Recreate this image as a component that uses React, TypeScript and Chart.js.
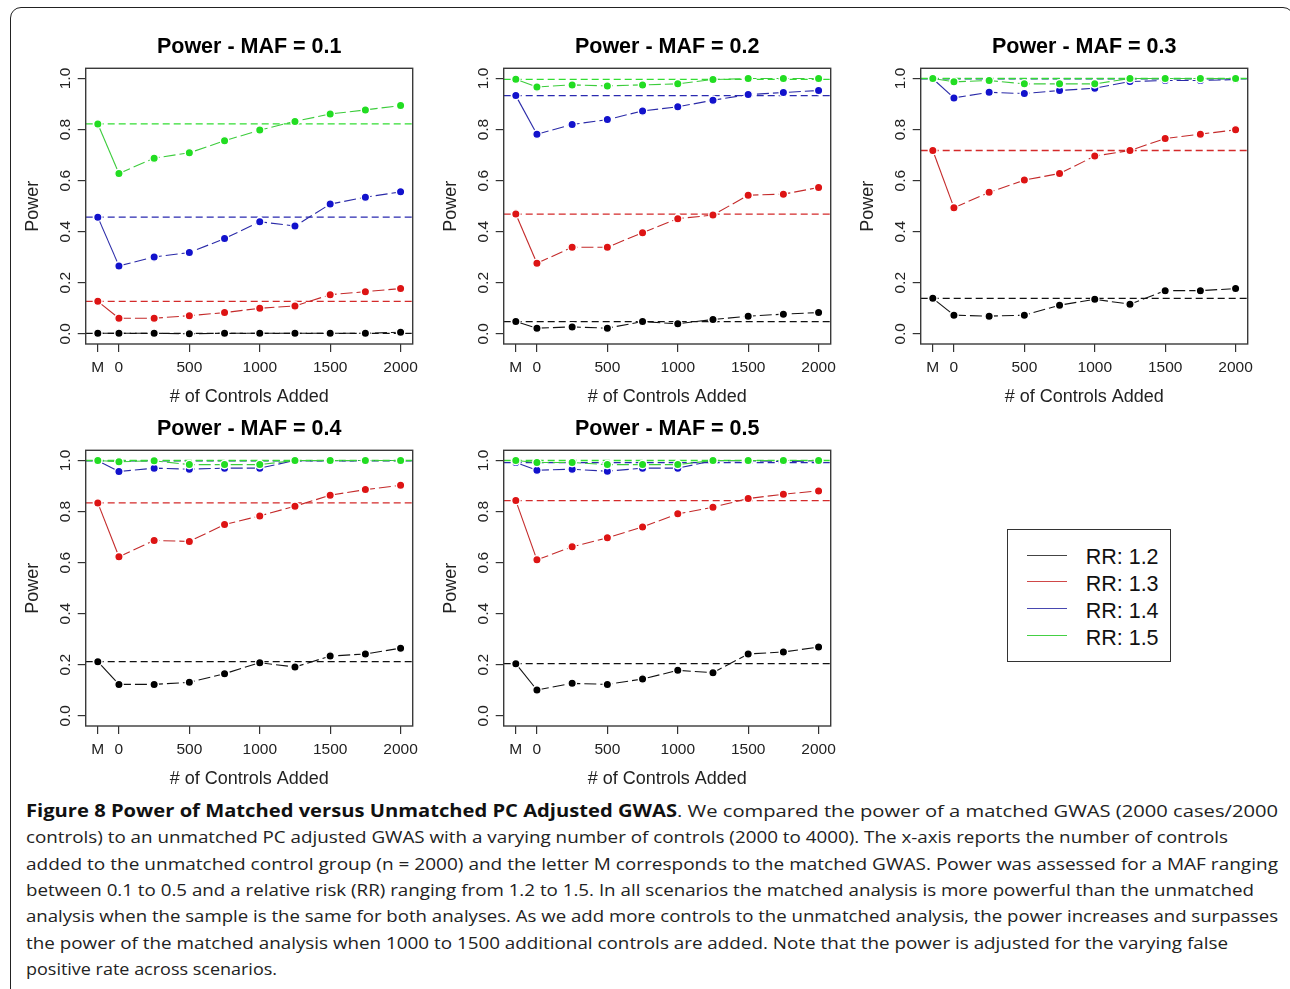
import React, { useEffect, useLayoutEffect, useRef } from 'react';
import { Chart, registerables } from 'chart.js';

Chart.register(...registerables);
Chart.defaults.font.family = "'Liberation Sans', Arial, Helvetica, sans-serif";
Chart.defaults.color = '#111';

// ---------- data ----------
const xValues = [-150, 0, 250, 500, 750, 1000, 1250, 1500, 1750, 2000];
const xTickValues = [-150, 0, 500, 1000, 1500, 2000];
const xTickLabels = ['M', '0', '500', '1000', '1500', '2000'];
const yTickValues = [0, 0.2, 0.4, 0.6, 0.8, 1.0];
const yTickLabels = ['0.0', '0.2', '0.4', '0.6', '0.8', '1.0'];
const rrLabels = ['RR: 1.2', 'RR: 1.3', 'RR: 1.4', 'RR: 1.5'];
const panelTitles = [
  'Power - MAF = 0.1',
  'Power - MAF = 0.2',
  'Power - MAF = 0.3',
  'Power - MAF = 0.4',
  'Power - MAF = 0.5',
];
const xAxisTitle = '# of Controls Added';
const yAxisTitle = 'Power';

// MAF = 0.1
const maf1Rr12 = [0.002, 0.002, 0.002, 0.0, 0.002, 0.002, 0.002, 0.002, 0.002, 0.006];
const maf1Rr13 = [0.127, 0.061, 0.061, 0.071, 0.083, 0.1, 0.109, 0.153, 0.165, 0.177];
const maf1Rr14 = [0.457, 0.266, 0.301, 0.318, 0.373, 0.439, 0.422, 0.508, 0.535, 0.556];
const maf1Rr15 = [0.822, 0.628, 0.688, 0.709, 0.756, 0.798, 0.832, 0.861, 0.877, 0.894];
// MAF = 0.2
const maf2Rr12 = [0.048, 0.022, 0.027, 0.022, 0.048, 0.039, 0.056, 0.069, 0.077, 0.083];
const maf2Rr13 = [0.469, 0.276, 0.339, 0.339, 0.396, 0.451, 0.465, 0.543, 0.547, 0.573];
const maf2Rr14 = [0.933, 0.782, 0.82, 0.839, 0.873, 0.889, 0.915, 0.937, 0.945, 0.953];
const maf2Rr15 = [0.997, 0.967, 0.975, 0.971, 0.975, 0.979, 0.996, 1.0, 1.0, 1.0];
// MAF = 0.3
const maf3Rr12 = [0.139, 0.073, 0.069, 0.073, 0.112, 0.135, 0.116, 0.169, 0.169, 0.177];
const maf3Rr13 = [0.718, 0.494, 0.554, 0.602, 0.628, 0.696, 0.718, 0.765, 0.782, 0.799];
const maf3Rr14 = [0.999, 0.924, 0.946, 0.941, 0.953, 0.962, 0.988, 0.992, 0.992, 0.996];
const maf3Rr15 = [1.0, 0.987, 0.992, 0.979, 0.979, 0.979, 1.0, 1.0, 1.0, 1.0];
// MAF = 0.4
const maf4Rr12 = [0.212, 0.123, 0.123, 0.131, 0.165, 0.208, 0.191, 0.234, 0.242, 0.265];
const maf4Rr13 = [0.834, 0.623, 0.687, 0.683, 0.749, 0.783, 0.821, 0.864, 0.886, 0.903];
const maf4Rr14 = [0.999, 0.957, 0.97, 0.966, 0.97, 0.97, 1.0, 0.999, 1.0, 1.0];
const maf4Rr15 = [1.0, 0.995, 0.999, 0.984, 0.984, 0.984, 1.0, 1.0, 1.0, 1.0];
// MAF = 0.5
const maf5Rr12 = [0.204, 0.101, 0.127, 0.123, 0.144, 0.178, 0.169, 0.242, 0.25, 0.269];
const maf5Rr13 = [0.843, 0.611, 0.662, 0.697, 0.74, 0.791, 0.817, 0.851, 0.868, 0.881];
const maf5Rr14 = [0.992, 0.962, 0.966, 0.958, 0.97, 0.97, 0.999, 0.999, 0.996, 0.999];
const maf5Rr15 = [1.0, 0.992, 0.992, 0.984, 0.984, 0.984, 1.0, 1.0, 1.0, 1.0];

const panelSeries = [
  [maf1Rr12, maf1Rr13, maf1Rr14, maf1Rr15],
  [maf2Rr12, maf2Rr13, maf2Rr14, maf2Rr15],
  [maf3Rr12, maf3Rr13, maf3Rr14, maf3Rr15],
  [maf4Rr12, maf4Rr13, maf4Rr14, maf4Rr15],
  [maf5Rr12, maf5Rr13, maf5Rr14, maf5Rr15],
];

const captionBold = 'Figure 8 Power of Matched versus Unmatched PC Adjusted GWAS';
const captionLines = [
  '. We compared the power of a matched GWAS (2000 cases/2000',
  'controls) to an unmatched PC adjusted GWAS with a varying number of controls (2000 to 4000). The x-axis reports the number of controls',
  'added to the unmatched control group (n = 2000) and the letter M corresponds to the matched GWAS. Power was assessed for a MAF ranging',
  'between 0.1 to 0.5 and a relative risk (RR) ranging from 1.2 to 1.5. In all scenarios the matched analysis is more powerful than the unmatched',
  'analysis when the sample is the same for both analyses. As we add more controls to the unmatched analysis, the power increases and surpasses',
  'the power of the matched analysis when 1000 to 1500 additional controls are added. Note that the power is adjusted for the varying false',
  'positive rate across scenarios.',
];

// ---------- styles ----------
const pointColors = ['#000000', '#dd1414', '#1212cc', '#22dd22'];
const lineColors = ['#111111', '#c42a2a', '#2a2aa8', '#3ccc3c'];
const refColors = ['#111111', '#d42a2a', '#2a2ab0', '#33dd33'];
const legendColors = ['#444444', '#d04848', '#4848b0', '#44d044'];

const PANEL_W = 408;
const PANEL_H = 390;
const Y_AXIS_W = 73.7;
const X_AXIS_H = 68;
const PAD_RIGHT = 7.3;
const boxLefts = [85.7, 503.3, 921];
const boxTops = [68.2, 450];
const panelPos = [
  [0, 0], [1, 0], [2, 0], [0, 1], [1, 1],
];

const captionLeft = 26;
const captionRightEdges = [1278, 1228, 1278, 1254, 1278, 1228, 277];
const captionCenters = [812, 838.3, 864.7, 891, 917.3, 943.7, 970];

const boxPlugin = {
  id: 'plotBox',
  afterDatasetsDraw(chart: any) {
    const { ctx, chartArea } = chart;
    ctx.save();
    ctx.strokeStyle = '#3a3a3a';
    ctx.lineWidth = 1.4;
    ctx.setLineDash([]);
    ctx.strokeRect(chartArea.left, chartArea.top, chartArea.right - chartArea.left, chartArea.bottom - chartArea.top);
    ctx.restore();
  },
};

const refLinePlugin = {
  id: 'refLines',
  beforeDatasetsDraw(chart: any) {
    const { ctx, chartArea, scales } = chart;
    ctx.save();
    ctx.setLineDash([7, 4]);
    ctx.lineWidth = 1.3;
    chart.data.datasets.forEach((ds: any) => {
      const y = scales.y.getPixelForValue(ds.data[0].y);
      ctx.strokeStyle = ds.refColor;
      ctx.beginPath();
      ctx.moveTo(chartArea.left, y);
      ctx.lineTo(chartArea.right, y);
      ctx.stroke();
    });
    ctx.restore();
  },
};

function Panel({ index }: { index: number }) {
  const ref = useRef<HTMLCanvasElement>(null);
  const [col, row] = panelPos[index];
  const left = boxLefts[col] - Y_AXIS_W;
  const top = boxTops[row] - 46.3;

  useEffect(() => {
    const series = panelSeries[index];
    const datasets = series.map((vals, i) => ({
      label: rrLabels[i],
      data: xValues.map((x, j) => ({ x, y: vals[j] })),
      borderColor: lineColors[i],
      backgroundColor: pointColors[i],
      pointBackgroundColor: pointColors[i],
      pointBorderColor: '#ffffff',
      pointBorderWidth: 1.4,
      pointRadius: 4.2,
      borderWidth: 1.1,
      tension: 0,
      fill: false,
      order: 3 - i,
      refColor: refColors[i],
      segment: {
        borderDash: (ctx: any) => (ctx.p0DataIndex === 0 ? [] : [12, 4]),
      },
    }));

    const chart = new Chart(ref.current as HTMLCanvasElement, {
      type: 'line',
      data: { datasets } as any,
      options: {
        animation: false,
        responsive: false,
        devicePixelRatio: 1,
        events: [],
        layout: { autoPadding: false, padding: { left: 0, right: PAD_RIGHT, top: 0, bottom: 0 } },
        plugins: {
          legend: { display: false },
          tooltip: { enabled: false },
          title: {
            display: true,
            text: panelTitles[index],
            fullSize: false,
            color: '#000',
            font: { size: 21.5, weight: 'bold' },
            padding: { top: 12.1, bottom: 8.4 },
          },
        },
        scales: {
          x: {
            type: 'linear',
            min: -236,
            max: 2086,
            bounds: 'data',
            afterBuildTicks: (s: any) => {
              s.ticks = xTickValues.map((v) => ({ value: v }));
            },
            afterFit: (s: any) => {
              s.height = X_AXIS_H;
              s.paddingLeft = 0;
              s.paddingRight = 0;
            },
            ticks: {
              autoSkip: false,
              minRotation: 0,
              maxRotation: 0,
              padding: 6.7,
              color: '#222',
              font: { size: 15.5 },
              callback: (v: any) => xTickLabels[xTickValues.indexOf(Number(v))] ?? '',
            },
            grid: { drawOnChartArea: false, drawTicks: true, tickLength: 8, color: '#333', lineWidth: 1.2 },
            border: { display: false },
            title: {
              display: true,
              text: xAxisTitle,
              color: '#222',
              font: { size: 18 },
              padding: { top: 0, bottom: 4.5 },
            },
          },
          y: {
            type: 'linear',
            min: -0.04,
            max: 1.04,
            bounds: 'data',
            afterBuildTicks: (s: any) => {
              s.ticks = yTickValues.map((v) => ({ value: v }));
            },
            afterFit: (s: any) => {
              s.width = Y_AXIS_W;
              s.paddingTop = 0;
              s.paddingBottom = 0;
            },
            ticks: {
              minRotation: 90,
              maxRotation: 90,
              crossAlign: 'center',
              padding: 1.6,
              color: '#222',
              font: { size: 15.5 },
              callback: (v: any) => yTickLabels[yTickValues.indexOf(Number(v))] ?? '',
            },
            grid: { drawOnChartArea: false, drawTicks: true, tickLength: 8, color: '#333', lineWidth: 1.2 },
            border: { display: false },
            title: {
              display: true,
              text: yAxisTitle,
              color: '#222',
              font: { size: 18 },
              padding: { top: 10.5, bottom: 0 },
            },
          },
        },
      } as any,
      plugins: [refLinePlugin, boxPlugin],
    });
    return () => chart.destroy();
  }, [index]);

  return (
    <canvas
      ref={ref}
      width={PANEL_W}
      height={PANEL_H}
      style={{ position: 'absolute', left, top, width: PANEL_W, height: PANEL_H }}
    />
  );
}

function Legend() {
  const boxL = 1007.3;
  const boxT = 529.3;
  const rowYs = [555.3, 582.2, 609.1, 636];
  const fs = 21.5;
  return (
    <>
      <div
        style={{
          position: 'absolute',
          left: boxL,
          top: boxT,
          width: 163.4,
          height: 133,
          border: '1.5px solid #333',
          boxSizing: 'border-box',
        }}
      />
      {rrLabels.map((label, i) => (
        <React.Fragment key={label}>
          <div
            style={{
              position: 'absolute',
              left: 1026.7,
              top: rowYs[i] - 0.75,
              width: 40,
              height: 0,
              borderTop: `1.5px solid ${legendColors[i]}`,
            }}
          />
          <div
            style={{
              position: 'absolute',
              left: 1085.7,
              top: rowYs[i] - fs / 2 + 2.5,
              height: fs,
              lineHeight: `${fs}px`,
              fontSize: fs,
              fontFamily: "'Liberation Sans', Arial, sans-serif",
              color: '#111',
              whiteSpace: 'nowrap',
            }}
          >
            {label}
          </div>
        </React.Fragment>
      ))}
    </>
  );
}

function Caption() {
  const refs = useRef<(HTMLDivElement | null)[]>([]);
  useLayoutEffect(() => {
    refs.current.forEach((el, i) => {
      if (!el) return;
      el.style.transform = 'none';
      const w = el.getBoundingClientRect().width;
      const target = captionRightEdges[i] - captionLeft;
      if (w > 0) el.style.transform = `scaleX(${target / w})`;
    });
  }, []);
  const lh = 26.3;
  return (
    <>
      {captionLines.map((line, i) => (
        <div
          key={i}
          ref={(el) => {
            refs.current[i] = el;
          }}
          style={{
            position: 'absolute',
            left: captionLeft,
            top: captionCenters[i] - 14,
            lineHeight: `${lh}px`,
            height: lh,
            fontSize: 17,
            fontFamily: "'Open Sans', 'Noto Sans', sans-serif",
            color: '#222',
            whiteSpace: 'nowrap',
            display: 'inline-block',
            transformOrigin: 'left center',
          }}
        >
          {i === 0 ? <b style={{ color: '#111', fontWeight: 700 }}>{captionBold}</b> : null}
          {line}
        </div>
      ))}
    </>
  );
}

export default function App() {
  return (
    <div
      style={{
        position: 'absolute',
        left: 0,
        top: 0,
        width: 1290,
        height: 989,
        overflow: 'hidden',
        background: '#fff',
      }}
    >
      <div
        style={{
          position: 'absolute',
          left: 10,
          top: 7,
          width: 1284,
          height: 1010,
          border: '1.2px solid #222',
          borderRadius: 11,
          boxSizing: 'border-box',
        }}
      />
      {panelTitles.map((_, i) => (
        <Panel key={i} index={i} />
      ))}
      <Legend />
      <Caption />
    </div>
  );
}
